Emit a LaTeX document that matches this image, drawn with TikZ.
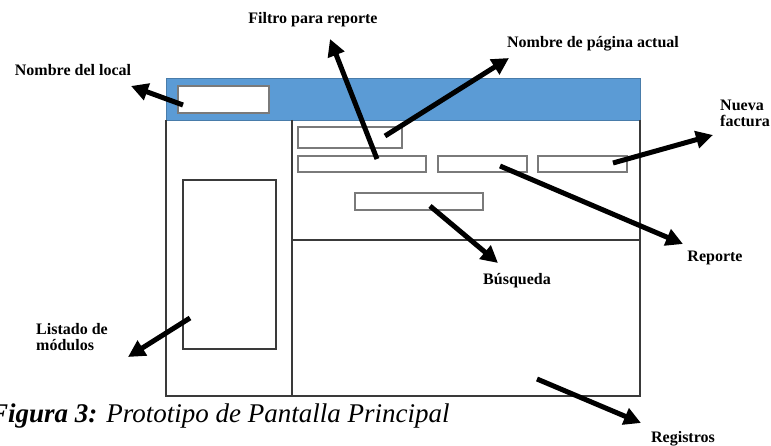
\documentclass[tikz,border=0pt]{standalone}
\usepackage{fontspec}
\setmainfont{Liberation Serif}
\usetikzlibrary{arrows.meta}
\definecolor{barblue}{HTML}{5B9BD5}
\definecolor{framegray}{HTML}{3A3A3A}
\definecolor{boxgray}{HTML}{7A7A7A}
\tikzset{
  lbl/.style={font=\fontsize{16}{18}\selectfont\bfseries, inner sep=0pt, anchor=base},
  lbll/.style={font=\fontsize{16}{18}\selectfont\bfseries, inner sep=0pt, anchor=base west, align=left},
  fld/.style={draw=boxgray, line width=1.3pt, fill=white},
  ptr/.style={line width=5pt, -{Triangle[length=17pt,width=17pt]}, black},
}
\begin{document}
\begin{tikzpicture}[x=1pt,y=-1pt]
\useasboundingbox (0,0) rectangle (771,446);
% window
\fill[white] (166,120) rectangle (640,396);
\draw[barblue!80!black, fill=barblue, line width=0.8pt] (166,78) rectangle (640,120);
\draw[framegray, line width=2pt] (166,120) -- (166,396) -- (640,396) -- (640,120);
\draw[framegray, line width=1.2pt] (292,120) -- (292,396);
\draw[framegray, line width=1.2pt] (292,240) -- (640,240);
% fields
\draw[fld] (178,86) rectangle (269,113);
\draw[draw=framegray, line width=1.2pt] (183,180) rectangle (276,349);
\draw[fld] (298,127) rectangle (402,148);
\draw[fld] (298,156) rectangle (426,172);
\draw[fld] (438,156) rectangle (527,172);
\draw[fld] (538,156) rectangle (627,172);
\draw[fld] (355,193) rectangle (483,210);
% labels
\node[lbl] (filtro) at (313,24) {Filtro para reporte};
\node[lbl] (local) at (73,76) {Nombre del local};
\node[lbl] (pagina) at (593,48) {Nombre de página actual};
\node[lbll] (nueva) at (720,127) {Nueva\\[-2pt]factura};
\node[lbl] (reporte) at (715,262) {Reporte};
\node[lbl] (busqueda) at (517,285) {Búsqueda};
\node[lbll] (listado) at (36,350) {Listado de\\[-2pt]módulos};
\node[lbl] (registros) at (683,442) {Registros};
% arrow ends
\coordinate (tLocal) at (183,105);   \coordinate (hLocal) at (131,86);
\coordinate (tFiltro) at (377,159);  \coordinate (hFiltro) at (330,39);
\coordinate (tPagina) at (385,136);  \coordinate (hPagina) at (509,58);
\coordinate (tNueva) at (613,163);   \coordinate (hNueva) at (713,135);
\coordinate (tReporte) at (500,166); \coordinate (hReporte) at (683,244);
\coordinate (tBusq) at (430,206);    \coordinate (hBusq) at (498,263);
\coordinate (tListado) at (190,318); \coordinate (hListado) at (128,357);
\coordinate (tReg) at (537,379);     \coordinate (hReg) at (641,423);
\draw[ptr] (tLocal) -- (hLocal);
\draw[ptr] (tFiltro) -- (hFiltro);
\draw[ptr] (tPagina) -- (hPagina);
\draw[ptr] (tNueva) -- (hNueva);
\draw[ptr] (tReporte) -- (hReporte);
\draw[ptr] (tBusq) -- (hBusq);
\draw[ptr] (tListado) -- (hListado);
\draw[ptr] (tReg) -- (hReg);
% caption
\node[inner sep=0pt, anchor=base west, font=\fontsize{27}{30}\selectfont] (caption) at (-10,422) {\textbf{\textit{Figura 3:}} \textit{Prototipo de Pantalla Principal}};
\end{tikzpicture}
\end{document}
